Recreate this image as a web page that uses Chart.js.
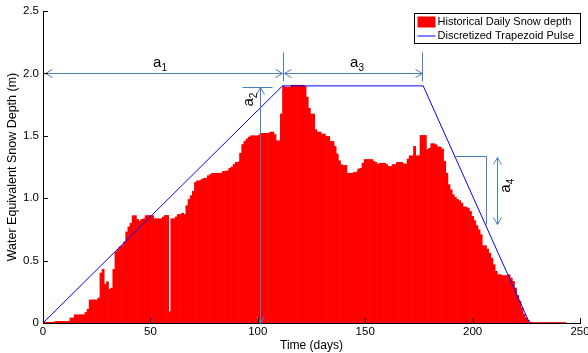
<!DOCTYPE html>
<html>
<head>
<meta charset="utf-8">
<script src="https://cdn.jsdelivr.net/npm/chart.js@4.4.1/dist/chart.umd.min.js"></script>
<style>
  html, body { margin: 0; padding: 0; background: #fff; }
  canvas { display: block; }
</style>
</head>
<body>
<canvas id="snowChart" width="588" height="353"></canvas>
<script>
// daily snow depth (m), day 0 .. 243
const depth = [
  0.006, 0.006, 0.006, 0.006, 0.006, 0.006, 0.013, 0.013, 0.013, 0.013,
  0.013, 0.013, 0.013, 0.04, 0.04, 0.066, 0.066, 0.066, 0.066, 0.066,
  0.085, 0.11, 0.185, 0.185, 0.185, 0.185, 0.2, 0.40, 0.43, 0.31,
  0.33, 0.27, 0.28, 0.43, 0.57, 0.59, 0.61, 0.62, 0.65, 0.73,
  0.77, 0.80, 0.86, 0.86, 0.83, 0.815, 0.83, 0.835, 0.86, 0.862,
  0.862, 0.86, 0.835, 0.835, 0.835, 0.835, 0.85, 0.862, 0.862, 0.09,
  0.835, 0.835, 0.85, 0.87, 0.87, 0.88, 0.87, 0.94, 0.99, 1.02,
  1.055, 1.127, 1.14, 1.14, 1.15, 1.16, 1.16, 1.18, 1.19, 1.2,
  1.2, 1.2, 1.2, 1.2, 1.215, 1.215, 1.22, 1.24, 1.25, 1.27,
  1.287, 1.29, 1.36, 1.43, 1.455, 1.475, 1.49, 1.5, 1.5, 1.5,
  1.5, 1.51, 1.52, 1.52, 1.52, 1.52, 1.53, 1.53, 1.51, 1.46,
  1.46, 1.675, 1.896, 1.89, 1.89, 1.89, 1.905, 1.905, 1.905, 1.905,
  1.905, 1.905, 1.896, 1.81, 1.72, 1.675, 1.675, 1.55, 1.53, 1.53,
  1.514, 1.514, 1.495, 1.495, 1.455, 1.455, 1.415, 1.354, 1.3, 1.268,
  1.263, 1.263, 1.2, 1.2, 1.2, 1.207, 1.21, 1.234, 1.24, 1.28,
  1.31, 1.31, 1.31, 1.31, 1.295, 1.287, 1.273, 1.28, 1.28, 1.28,
  1.27, 1.255, 1.255, 1.27, 1.27, 1.287, 1.287, 1.287, 1.276, 1.273,
  1.314, 1.34, 1.34, 1.415, 1.34, 1.34, 1.503, 1.503, 1.503, 1.389,
  1.4, 1.437, 1.437, 1.428, 1.41, 1.41, 1.394, 1.295, 1.2, 1.108,
  1.068, 1.028, 1.007, 0.99, 0.98, 0.96, 0.93, 0.93, 0.92, 0.894,
  0.855, 0.82, 0.78, 0.747, 0.708, 0.62, 0.62, 0.593, 0.56, 0.52,
  0.467, 0.414, 0.387, 0.387, 0.38, 0.38, 0.38, 0.387, 0.36, 0.334,
  0.28, 0.22, 0.174, 0.12, 0.07, 0.04, 0.02, 0.006, 0.004, 0.004,
  0.004, 0.004, 0.004, 0.004, 0.004, 0.004, 0.004, 0.004, 0.004, 0.004,
  0.004, 0.004, 0.004, 0.004
];
const days = depth.map((_, i) => i);

// trapezoid pulse corners
const pulseDays = [0, 111.5, 177, 226.5];
const pulseDepth = [0, 1.9, 1.9, 0];

const xTicks = [0, 50, 100, 150, 200, 250];
const yTicks = [0, 0.5, 1, 1.5, 2, 2.5];

const FONT = "'Liberation Sans', Arial, Helvetica, sans-serif";
const ANNO = '#4a7ebb';

function chevron(ctx, x, y, dx, dy) {
  // open arrow head, tip at (x,y), pointing along (dx,dy)
  const len = 7, half = 4;
  ctx.beginPath();
  ctx.moveTo(x - dx * len - dy * half, y - dy * len + dx * half);
  ctx.lineTo(x, y);
  ctx.lineTo(x - dx * len + dy * half, y - dy * len - dx * half);
  ctx.stroke();
}

function line(ctx, x1, y1, x2, y2) {
  ctx.beginPath();
  ctx.moveTo(x1, y1);
  ctx.lineTo(x2, y2);
  ctx.stroke();
}

function dblArrow(ctx, x1, y1, x2, y2) {
  line(ctx, x1, y1, x2, y2);
  const L = Math.hypot(x2 - x1, y2 - y1);
  const dx = (x2 - x1) / L, dy = (y2 - y1) / L;
  chevron(ctx, x2, y2, dx, dy);
  chevron(ctx, x1, y1, -dx, -dy);
}

function subLabel(ctx, x, y, base, sub, rotate) {
  ctx.save();
  ctx.translate(x, y);
  if (rotate) ctx.rotate(-Math.PI / 2);
  ctx.fillStyle = '#000';
  ctx.textBaseline = 'alphabetic';
  ctx.font = '15px ' + FONT;
  const w = ctx.measureText(base).width;
  ctx.font = '10px ' + FONT;
  const ws = ctx.measureText(sub).width;
  const x0 = -(w + ws) / 2;
  ctx.font = '15px ' + FONT;
  ctx.textAlign = 'left';
  ctx.fillText(base, x0, 5);
  ctx.font = '10px ' + FONT;
  ctx.fillText(sub, x0 + w, 9);
  ctx.restore();
}

const decorations = {
  id: 'decorations',
  afterDatasetsDraw(chart) {
    const ctx = chart.ctx;
    const xs = chart.scales.x, ys = chart.scales.y;
    const X = v => Math.round(xs.getPixelForValue(v)) + 0.5;
    const Y = v => Math.round(ys.getPixelForValue(v)) + 0.5;
    const area = chart.chartArea;

    ctx.save();
    ctx.strokeStyle = ANNO;
    ctx.lineWidth = 1;

    // a1 and a3 horizontal spans at y = 2
    dblArrow(ctx, X(0) + 2, Y(2), X(111.5) - 1, Y(2));
    dblArrow(ctx, X(111.5) + 1, Y(2), X(176.5), Y(2));
    line(ctx, X(111.5), Y(2.17), X(111.5), Y(1.94));
    line(ctx, X(176.5), Y(2.17), X(176.5), Y(1.94));

    // a2 vertical
    line(ctx, X(92.5), Y(1.89), X(106.5), Y(1.89));
    dblArrow(ctx, X(101), Y(1.89), X(101), Y(0));

    // a4 bracket and arrow
    line(ctx, X(191.6), Y(1.34), X(206.3), Y(1.34));
    line(ctx, X(206.3), Y(1.34), X(206.3), Y(0.79));
    dblArrow(ctx, X(211.3), Y(1.33), X(211.3), Y(0.79));

    // inward tick marks
    ctx.strokeStyle = '#000';
    xTicks.forEach(t => line(ctx, X(t), area.bottom, X(t), area.bottom - 5));
    yTicks.forEach(t => line(ctx, area.left, Y(t), area.left + 5, Y(t)));
    ctx.restore();

    subLabel(ctx, xs.getPixelForValue(54.5), ys.getPixelForValue(2.09), 'a', '1', false);
    subLabel(ctx, xs.getPixelForValue(146.2), ys.getPixelForValue(2.09), 'a', '3', false);
    subLabel(ctx, xs.getPixelForValue(95.3), ys.getPixelForValue(1.79), 'a', '2', true);
    subLabel(ctx, xs.getPixelForValue(215.3), ys.getPixelForValue(1.10), 'a', '4', true);

    // legend box
    const lx = area.right - 165.5, ly = 13.5, lw = 166, lh = 30;
    ctx.save();
    ctx.fillStyle = '#fff';
    ctx.fillRect(lx, ly, lw, lh);
    ctx.strokeStyle = '#000';
    ctx.lineWidth = 1;
    ctx.strokeRect(lx, ly, lw, lh);
    ctx.fillStyle = '#ff0000';
    ctx.fillRect(lx + 3, ly + 3, 18, 11);
    ctx.strokeStyle = '#0000ff';
    line(ctx, lx + 3, ly + 22.5, lx + 21, ly + 22.5);
    ctx.fillStyle = '#000';
    ctx.font = '11px ' + FONT;
    ctx.textBaseline = 'middle';
    ctx.textAlign = 'left';
    ctx.fillText('Historical Daily Snow depth', lx + 23, ly + 8.5);
    ctx.fillText('Discretized Trapezoid Pulse', lx + 23, ly + 22.5);
    ctx.restore();
  }
};

new Chart(document.getElementById('snowChart'), {
  data: {
    datasets: [
      {
        type: 'line',
        label: 'Discretized Trapezoid Pulse',
        data: pulseDays.map((d, i) => ({ x: d, y: pulseDepth[i] })),
        borderColor: '#0000ff',
        borderWidth: 1,
        pointRadius: 0,
        fill: false,
        tension: 0,
        order: 1
      },
      {
        type: 'bar',
        label: 'Historical Daily Snow depth',
        data: days.map((d, i) => ({ x: d, y: depth[i] })),
        backgroundColor: '#ff0000',
        borderWidth: 0,
        barPercentage: 1,
        categoryPercentage: 1,
        grouped: false,
        order: 2
      }
    ]
  },
  options: {
    responsive: false,
    animation: false,
    layout: { padding: { top: 11, right: 8, left: 0, bottom: 0 } },
    plugins: {
      legend: { display: false },
      tooltip: { enabled: false }
    },
    scales: {
      x: {
        type: 'linear',
        offset: false,
        min: 0,
        max: 250,
        ticks: { stepSize: 50, color: '#000', padding: 2, font: { family: FONT, size: 11.5 } },
        grid: { display: false, drawTicks: false, offset: false },
        border: { display: true, color: '#000', width: 1 },
        title: { display: true, text: 'Time (days)', color: '#000', font: { family: FONT, size: 12 }, padding: { top: 0, bottom: 0 } },
        afterFit(scale) { scale.height = 30; scale.paddingLeft = 0; scale.paddingRight = 0; }
      },
      y: {
        min: 0,
        max: 2.5,
        ticks: { stepSize: 0.5, color: '#000', padding: 4, font: { family: FONT, size: 11.5 } },
        grid: { display: false, drawTicks: false },
        border: { display: true, color: '#000', width: 1 },
        title: { display: true, text: 'Water Equivalent Snow Depth (m)', color: '#000', font: { family: FONT, size: 12.5 }, padding: { top: 5, bottom: 0 } },
        afterFit(scale) { scale.width = 43; scale.paddingTop = 0; scale.paddingBottom = 0; }
      }
    }
  },
  plugins: [decorations]
});
</script>
</body>
</html>
